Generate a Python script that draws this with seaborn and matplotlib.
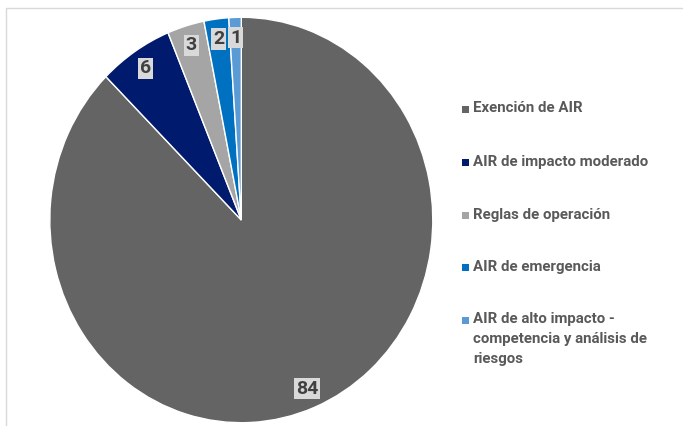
import matplotlib
matplotlib.use("Agg")
import matplotlib.pyplot as plt
import seaborn as sns
from matplotlib.patches import Rectangle

categories = ["Exención de AIR", "AIR de impacto moderado", "Reglas de operación",
              "AIR de emergencia", "AIR de alto impacto -\ncompetencia y análisis de\nriesgos"]
values = [84, 6, 3, 2, 1]
colors = ["#646464", "#001a6e", "#a5a5a5", "#0070c0", "#5b9bd5"]

sns.set_theme(style="white")
plt.rcParams['font.family'] = ['Roboto', 'DejaVu Sans']

W, H = 683, 426
fig = plt.figure(figsize=(W / 100, H / 100), dpi=100)
fig.patch.set_facecolor("white")

# pie geometry (pixels)
cx, cy, rx, ry = 241.3, 220.0, 191.5, 202.7
ax = fig.add_axes([(cx - rx) / W, 1 - (cy + ry) / H, 2 * rx / W, 2 * ry / H])

wedges, texts = ax.pie(values, colors=colors, startangle=90, counterclock=False,
                       labels=[str(v) for v in values], labeldistance=0.90,
                       wedgeprops=dict(edgecolor="white", linewidth=1.0),
                       textprops=dict(fontsize=14, fontweight="bold", color="#404040"))
for t in texts:
    t.set_ha("center")
    t.set_va("center")
    t.set_bbox(dict(facecolor="#d9d9d9", edgecolor="none", pad=1.2))
ax.set_aspect("auto")
ax.set_xlim(-1, 1)
ax.set_ylim(-1, 1)

# chart frame
fig.add_artist(Rectangle((6 / W, -0.1), 1.2, 1 - 8 / H + 0.1, transform=fig.transFigure,
                         fill=False, edgecolor="#d9d9d9", linewidth=1.0, clip_on=False))

# legend
ys = [109, 162, 215, 267, 320]
for lab, col, y in zip(categories, colors, ys):
    fig.add_artist(Rectangle((462 / W, 1 - (y + 3.5) / H), 7 / W, 7 / H,
                             transform=fig.transFigure, facecolor=col, edgecolor="none"))
    fig.text(473 / W, 1 - (y - 7.5) / H, lab, ha="left", va="top", fontsize=10.8,
             fontweight="bold", color="#595959", linespacing=1.5)

fig.savefig("out.png", dpi=100)
